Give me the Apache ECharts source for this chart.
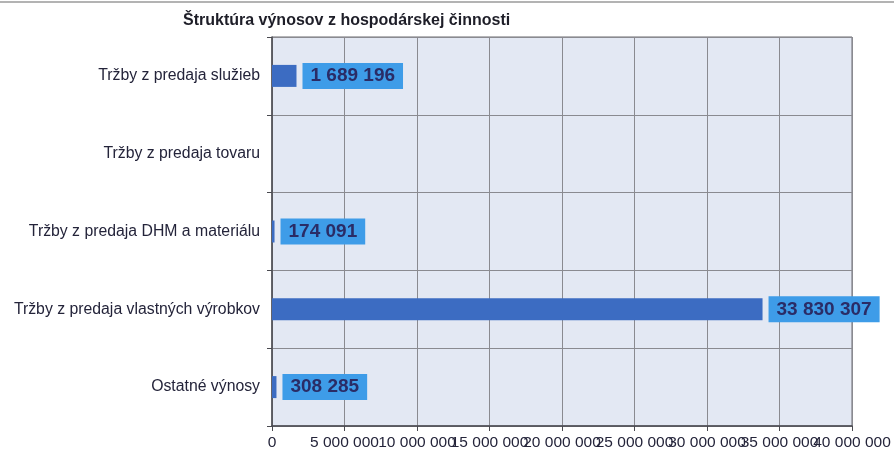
<!DOCTYPE html>
<html>
<head>
<meta charset="utf-8">
<script src="https://cdn.jsdelivr.net/npm/echarts@6/dist/echarts.min.js"></script>
<style>
  html, body { margin: 0; padding: 0; background: #fff; }
  #chart { width: 894px; height: 457px; }
</style>
</head>
<body>
<div id="chart"></div>
<script>
// categories top to bottom
const categories = [
  'Tržby z predaja služieb',
  'Tržby z predaja tovaru',
  'Tržby z predaja DHM a materiálu',
  'Tržby z predaja vlastných výrobkov',
  'Ostatné výnosy'
]
const values = [1689196, 0, 174091, 33830307, 308285]
const xTicks = [0, 5000000, 10000000, 15000000, 20000000, 25000000, 30000000, 35000000, 40000000]

function fmt(v) {
  return String(v).replace(/\B(?=(\d{3})+(?!\d))/g, ' ')
}

const chart = echarts.init(document.getElementById('chart'), null, { renderer: 'canvas' })

const option = {
  animation: false,
  textStyle: { fontFamily: 'Liberation Sans, Arial, sans-serif' },
  title: {
    text: 'Štruktúra výnosov z hospodárskej činnosti',
    left: 178,
    top: 8,
    textStyle: { fontSize: 16, fontWeight: 'bold', color: '#1e1e28' }
  },
  grid: {
    left: 272,
    right: 42,
    top: 37,
    bottom: 31,
    show: true,
    backgroundColor: '#e3e8f3',
    borderColor: '#6a6a70',
    borderWidth: 1
  },
  xAxis: [{
    type: 'value',
    min: xTicks[0],
    max: xTicks[xTicks.length - 1],
    interval: 5000000,
    axisLine: { show: true, lineStyle: { color: '#4a4a50', width: 1.5 } },
    axisTick: { show: true, length: 5, lineStyle: { color: '#4a4a50' } },
    axisLabel: { show: false },
    splitLine: { show: true, lineStyle: { color: '#8a8a90', width: 1 } }
  }, {
    // tick labels only; the ECharts value axis drops overlapping ones
    type: 'category',
    position: 'bottom',
    boundaryGap: false,
    data: xTicks.map(fmt),
    axisLine: { show: false },
    axisTick: { show: false },
    splitLine: { show: false },
    axisLabel: {
      interval: 0,
      hideOverlap: false,
      margin: 9,
      fontSize: 15.5,
      color: '#24243a'
    }
  }],
  yAxis: {
    type: 'category',
    inverse: true,
    data: categories,
    axisLine: { show: true, lineStyle: { color: '#4a4a50', width: 1.5 } },
    axisTick: { show: true, length: 5, lineStyle: { color: '#4a4a50' } },
    axisLabel: { fontSize: 15.8, color: '#24243a', margin: 12 },
    splitLine: { show: true, lineStyle: { color: '#8a8a90', width: 1 } }
  },
  series: [{
    type: 'bar',
    xAxisIndex: 0,
    barWidth: 22,
    itemStyle: { color: '#3c6cc2' },
    data: values.map(v => ({
      value: v,
      label: { show: v > 0 }
    })),
    label: {
      position: 'right',
      distance: 6,
      fontSize: 19,
      fontWeight: 'bold',
      color: '#2a2c66',
      backgroundColor: '#3e9ce8',
      padding: [4, 8, 3, 8],
      formatter: p => fmt(p.value)
    }
  }],
  graphic: [{
    type: 'line',
    shape: { x1: 0, y1: 2, x2: 894, y2: 2 },
    style: { stroke: '#9a9a9a', lineWidth: 1.5 }
  }]
}

chart.setOption(option)
</script>
</body>
</html>
